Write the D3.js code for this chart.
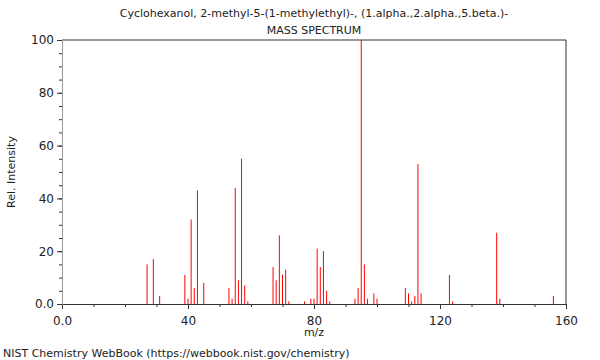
<!DOCTYPE html>
<html>
<head>
<meta charset="utf-8">
<script src="https://cdn.jsdelivr.net/npm/d3@7"></script>
<style>
  body { margin: 0; background: #fff; }
  text { font-family: "DejaVu Sans", sans-serif; fill: #222; }
</style>
</head>
<body>
<div id="chart"></div>
<script>
// peaks (m/z and relative intensity)
var mzValues = [27, 29, 31, 39, 40, 41, 42, 43, 45, 53, 54, 55, 56, 57, 58, 59,
  67, 68, 69, 70, 71, 72, 77, 79, 80, 81, 82, 83, 84, 85, 93, 94, 95, 96, 97, 99, 100,
  109, 110, 111, 112, 113, 114, 123, 124, 138, 139, 156];
var intensities = [15, 17, 3, 11, 2, 32, 6, 43, 8, 6, 2, 44, 9, 55, 7, 1,
  14, 9, 26, 11, 13, 1, 1, 2, 2, 21, 14, 20, 5, 1, 2, 6, 100, 15, 2, 4, 2,
  6, 4, 1, 3, 53, 4, 11, 1, 27, 2, 3];
var xMajorTicks = [0, 40, 80, 120, 160];
var xMinorTicks = d3.range(0, 161, 10);
var yMajorTicks = [0, 20, 40, 60, 80, 100];
var yMinorTicks = d3.range(0, 101, 5);

var w = 600, h = 360;
var svg = d3.select('#chart').append('svg')
  .attr('width', w)
  .attr('height', h);

var x = d3.scaleLinear().domain([0, 160]).range([62, 566]);
var y = d3.scaleLinear().domain([0, 100]).range([304, 40]);

var peaks = mzValues.map(function(m, i) { return { mz: m, val: intensities[i] }; });

// frame (top + right)
svg.append('path')
  .attr('d', 'M' + x(0) + ',' + y(100) + 'H' + x(160) + 'V' + y(0))
  .attr('fill', 'none')
  .attr('stroke', '#333')
  .attr('stroke-width', 1);

// bars
svg.selectAll('.peak')
  .data(peaks)
  .enter()
  .append('line')
    .attr('class', 'peak')
    .attr('x1', function(d) { return x(d.mz); })
    .attr('x2', function(d) { return x(d.mz); })
    .attr('y1', y(0))
    .attr('y2', function(d) { return y(d.val); })
    .attr('stroke', '#f00')
    .attr('stroke-width', 1);

// x axis
var xMinor = svg.append('g')
  .attr('transform', 'translate(0,' + y(0) + ')')
  .call(d3.axisBottom(x).tickValues(xMinorTicks).tickSize(3).tickSizeOuter(0).tickFormat(''));
var xAxis = svg.append('g')
  .attr('transform', 'translate(0,' + y(0) + ')')
  .call(d3.axisBottom(x).tickValues(xMajorTicks).tickSize(5).tickSizeOuter(0).tickPadding(7)
    .tickFormat(function(d) { return d === 0 ? '0.0' : d; }));

// y axis
var yMinor = svg.append('g')
  .attr('transform', 'translate(' + x(0) + ',0)')
  .call(d3.axisLeft(y).tickValues(yMinorTicks).tickSize(3).tickSizeOuter(0).tickFormat(''));
var yAxis = svg.append('g')
  .attr('transform', 'translate(' + x(0) + ',0)')
  .call(d3.axisLeft(y).tickValues(yMajorTicks).tickSize(5).tickSizeOuter(0).tickPadding(3)
    .tickFormat(function(d) { return d === 0 ? '0.0' : d; }));

svg.selectAll('.domain').attr('stroke', '#333');
yAxis.select('.domain').attr('stroke', '#999');
yMinor.select('.domain').attr('stroke', '#999');
svg.selectAll('.tick line').attr('stroke', '#333');
svg.selectAll('.tick text')
  .attr('font-family', '"DejaVu Sans", sans-serif')
  .attr('font-size', 12)
  .attr('fill', '#222');

// titles
svg.append('text')
  .attr('x', 314).attr('y', 17)
  .attr('text-anchor', 'middle')
  .attr('font-size', 11)
  .text('Cyclohexanol, 2-methyl-5-(1-methylethyl)-, (1.alpha.,2.alpha.,5.beta.)-');
svg.append('text')
  .attr('x', 314).attr('y', 34)
  .attr('text-anchor', 'middle')
  .attr('font-size', 11)
  .text('MASS SPECTRUM');

svg.append('text')
  .attr('x', 314).attr('y', 336)
  .attr('text-anchor', 'middle')
  .attr('font-size', 11)
  .text('m/z');

svg.append('text')
  .attr('transform', 'translate(15,172) rotate(-90)')
  .attr('text-anchor', 'middle')
  .attr('font-size', 11)
  .text('Rel. Intensity');

svg.append('text')
  .attr('x', 3).attr('y', 357)
  .attr('font-size', 11)
  .text('NIST Chemistry WebBook (https://webbook.nist.gov/chemistry)');
</script>
</body>
</html>
